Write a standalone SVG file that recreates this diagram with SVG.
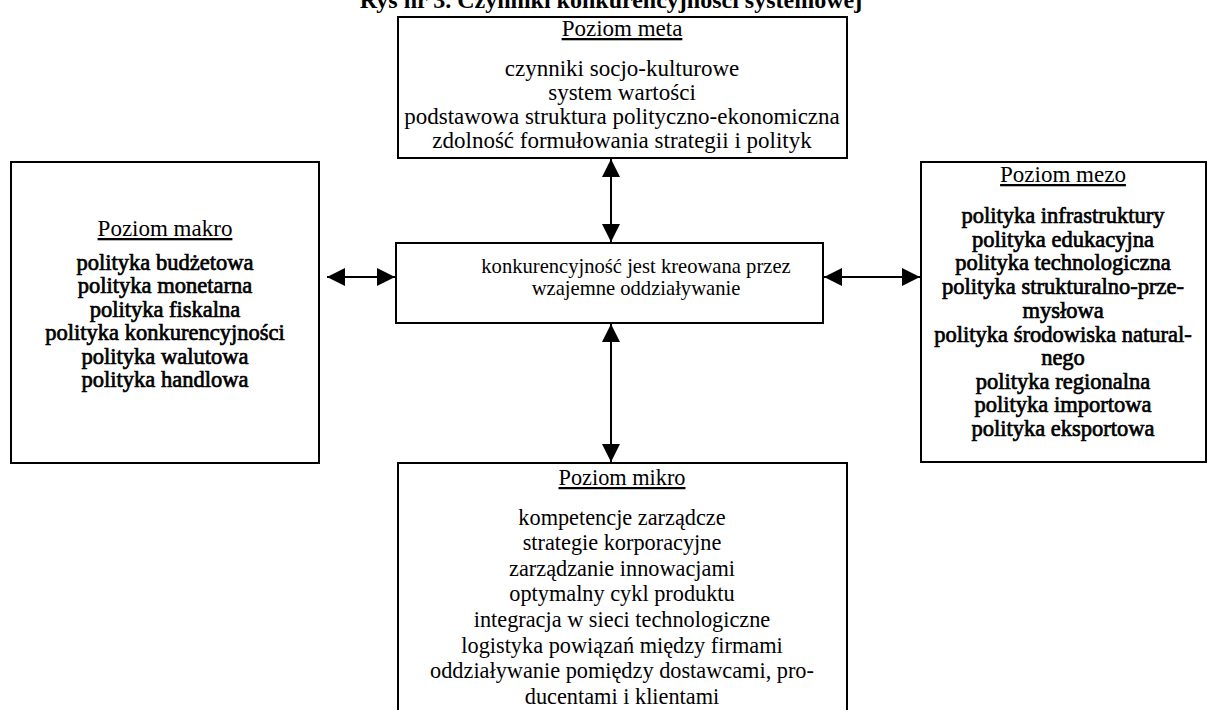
<svg xmlns="http://www.w3.org/2000/svg" width="1212" height="710" viewBox="0 0 1212 710">
<style>
.box{fill:#fff;stroke:#000;stroke-width:2}
text{font-family:"Liberation Serif","Times New Roman",serif;font-size:23px;fill:#000;text-anchor:middle}
.h{text-decoration:underline}
.t{font-weight:bold;font-size:24px}
.b text{font-size:22.5px;stroke:#000;stroke-width:0.7}
.m text{font-size:22.3px}
.k text{font-size:20.6px}
.c{stroke:#000;stroke-width:2;fill:none}
</style>
<defs>
<marker id="ah" viewBox="0 0 10 10" refX="10" refY="5" markerWidth="9" markerHeight="9" markerUnits="strokeWidth" orient="auto-start-reverse">
<path d="M0,0 L10,5 L0,10 Z" fill="#000"/>
</marker>
</defs>
<rect width="1212" height="710" fill="#fff"/>
<text class="t" x="611" y="8">Rys nr 3.  Czynniki konkurencyjności systemowej</text>
<g id="meta">
<rect class="box" x="398" y="17" width="449" height="141"/>
<text class="h" x="622" y="36">Poziom meta</text>
<text x="622" y="76">czynniki socjo-kulturowe</text>
<text x="622" y="100">system wartości</text>
<text x="622" y="124">podstawowa struktura polityczno-ekonomiczna</text>
<text x="622" y="148">zdolność formułowania strategii i polityk</text>
</g>
<g id="makro">
<rect class="box" x="11" y="162" width="308" height="301"/>
<text class="h" x="165" y="236">Poziom makro</text>
<g class="b">
<text x="165" y="270">polityka budżetowa</text>
<text x="165" y="293">polityka monetarna</text>
<text x="165" y="317">polityka fiskalna</text>
<text x="165" y="340">polityka konkurencyjności</text>
<text x="165" y="364">polityka walutowa</text>
<text x="165" y="387">polityka handlowa</text>
</g>
</g>
<g id="center">
<rect class="box" x="396" y="243" width="427" height="80"/>
<g class="k">
<text x="636" y="273">konkurencyjność jest kreowana przez</text>
<text x="636" y="295">wzajemne oddziaływanie</text>
</g>
</g>
<g id="mezo">
<rect class="box" x="921" y="162" width="285" height="300"/>
<text class="h" x="1063" y="182">Poziom mezo</text>
<g class="b">
<text x="1063" y="223">polityka infrastruktury</text>
<text x="1063" y="247">polityka edukacyjna</text>
<text x="1063" y="270">polityka technologiczna</text>
<text x="1063" y="294">polityka strukturalno-prze-</text>
<text x="1063" y="318">mysłowa</text>
<text x="1063" y="342">polityka środowiska natural-</text>
<text x="1063" y="365">nego</text>
<text x="1063" y="389">polityka regionalna</text>
<text x="1063" y="412">polityka importowa</text>
<text x="1063" y="436">polityka eksportowa</text>
</g>
</g>
<g id="mikro">
<rect class="box" x="398" y="463" width="449" height="260"/>
<g class="m">
<text class="h" x="622" y="485">Poziom mikro</text>
<text x="622" y="525">kompetencje zarządcze</text>
<text x="622" y="550">strategie korporacyjne</text>
<text x="622" y="576">zarządzanie innowacjami</text>
<text x="622" y="601">optymalny cykl produktu</text>
<text x="622" y="627">integracja w sieci technologiczne</text>
<text x="622" y="653">logistyka powiązań między firmami</text>
<text x="622" y="678">oddziaływanie pomiędzy dostawcami, pro-</text>
<text x="622" y="704">ducentami i klientami</text>
</g>
</g>
<g id="connectors">
<line class="c" x1="611" y1="159" x2="611" y2="242" marker-start="url(#ah)" marker-end="url(#ah)"/>
<line class="c" x1="611" y1="324" x2="611" y2="462" marker-start="url(#ah)" marker-end="url(#ah)"/>
<line class="c" x1="327" y1="277" x2="395" y2="277" marker-start="url(#ah)" marker-end="url(#ah)"/>
<line class="c" x1="824" y1="277" x2="920" y2="277" marker-start="url(#ah)" marker-end="url(#ah)"/>
</g>
</svg>
